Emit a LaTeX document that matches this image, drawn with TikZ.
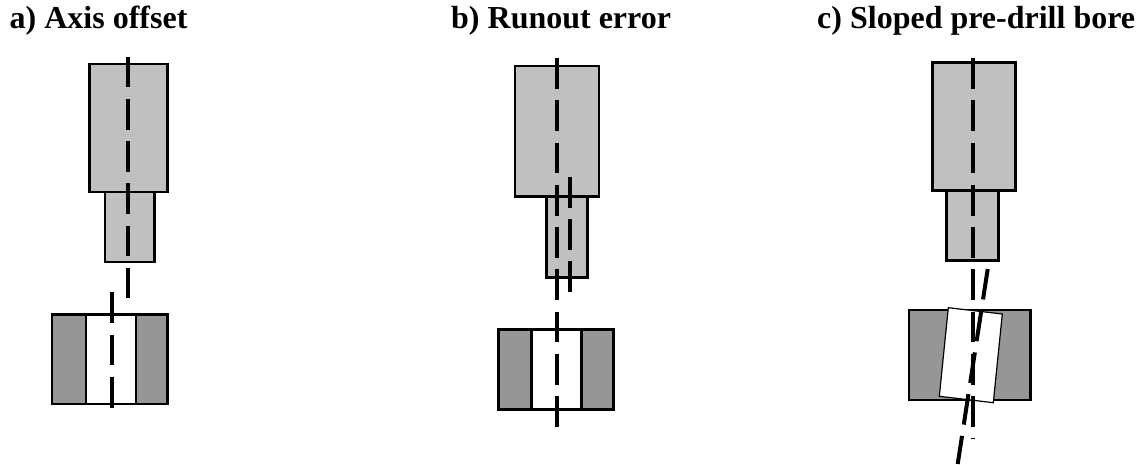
\documentclass[tikz,border=0pt]{standalone}
\usepackage{fontspec}
\setmainfont{Liberation Serif}
\definecolor{toolgray}{HTML}{C0C0C0}
\definecolor{blockgray}{HTML}{969696}
\tikzset{
  title/.style={anchor=base west,inner sep=0pt,font=\fontsize{32}{36}\selectfont\bfseries},
  tool/.style={draw=black,fill=toolgray,line width=2.5pt},
  block/.style={draw=black,fill=blockgray,line width=2.5pt},
  bore/.style={draw=black,fill=white,line width=2.5pt},
  axisline/.style={black,line width=4pt,dash pattern=on 30.8pt off 11.4pt}
}
\begin{document}
\begin{tikzpicture}[x=1pt,y=-1pt]
        \useasboundingbox (0,0) rectangle (1142,465);

        % Titles
        \node[title] (titleA) at (9.5,28.5) {a) Axis offset};
        \node[title] (titleB) at (451,28.5) {b) Runout error};
        \node[title] (titleC) at (817,28.5) {c) Sloped pre-drill bore};

        % a) tool and block
        \draw[tool] (89.3,64) rectangle (167.7,192);
        \draw[tool] (105,192) rectangle (154.7,262);
        \draw[block] (52,314.3) rectangle (167.7,404);
        \draw[bore] (86,314.3) rectangle (136,404);

        % a) axes
        \draw[axisline] (127.7,56.7) -- (127.7,298);
        \draw[axisline] (112.3,292.3) -- (112.3,408);

        % b) tool and block
        \draw[tool] (515,66) rectangle (599,196.7);
        \draw[tool] (546.3,196.7) rectangle (587.3,277.7);
        \draw[block] (498.7,329.7) rectangle (613.3,409.3);
        \draw[bore] (531.7,329.7) rectangle (581.7,409.3);

        % b) axes
        \draw[axisline] (557,58.3) -- (557,428.3);
        \draw[axisline] (569.7,176.7) -- (569.7,292.3);

        % c) tool and block
        \draw[tool] (932.3,62.7) rectangle (1015.3,190.3);
        \draw[tool] (946.3,190.3) rectangle (998.7,260.3);
        \draw[block] (909,310) rectangle (1030.3,400);
        \draw[bore,line width=1.2pt] (948.3,307.7) -- (1002.3,314) -- (993.3,402.7) -- (939.3,396.3) -- cycle;

        % c) axes
        \draw[axisline] (972.7,58.3) -- (972.7,439.3);
        \draw[axisline] (987.7,269) -- (957.7,464);
      \end{tikzpicture}
\end{document}
